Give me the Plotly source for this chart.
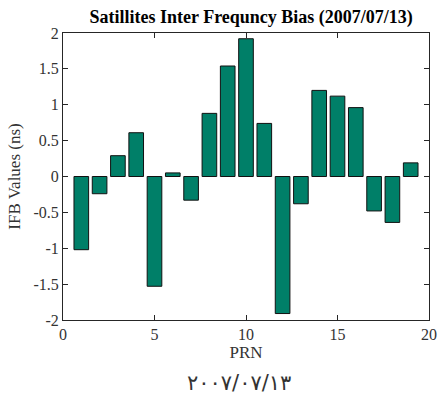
import plotly.graph_objects as go

# Inter-frequency bias per satellite
prn = list(range(1, 20))
ifb_ns = [-1.02, -0.24, 0.29, 0.61, -1.53, 0.05, -0.33, 0.88, 1.54, 1.92,
          0.74, -1.91, -0.38, 1.20, 1.12, 0.96, -0.48, -0.64, 0.19]

x_ticks = [0, 5, 10, 15, 20]
y_ticks = [-2, -1.5, -1, -0.5, 0, 0.5, 1, 1.5, 2]
y_tick_text = ["-2", "-1.5", "-1", "-0.5", "0", "0.5", "1", "1.5", "2"]

title_text = "Satillites Inter Frequncy Bias (2007/07/13)"
date_text = "٢٠٠٧/٠٧/١٣"

serif = "Liberation Serif, Times New Roman, serif"
axis_color = "#262626"

fig = go.Figure(go.Bar(
    x=prn, y=ifb_ns, width=0.8,
    marker=dict(color="#007F68", line=dict(color="#111111", width=1)),
))

axis_common = dict(
    showgrid=False, zeroline=False, showline=True, linecolor=axis_color,
    linewidth=1, mirror="ticks", ticks="inside", ticklen=5,
    tickcolor=axis_color, tickfont=dict(family=serif, size=16, color="#333333"),
)

fig.update_layout(
    width=447, height=394,
    margin=dict(l=63, r=10, t=33, b=74),
    paper_bgcolor="white", plot_bgcolor="white",
    showlegend=False,
    title=dict(text="<b>" + title_text + "</b>", x=0.562, xanchor="center",
               y=1 - 17 / 394, yanchor="middle",
               font=dict(family=serif, size=18, color="black")),
    xaxis=dict(range=[0, 20], tickvals=x_ticks, **axis_common,
               title=dict(text="PRN", standoff=2,
                          font=dict(family=serif, size=17, color="#333333"))),
    yaxis=dict(range=[-2, 2], tickvals=y_ticks, ticktext=y_tick_text, **axis_common,
               title=dict(text="IFB Values (ns)", standoff=8,
                          font=dict(family=serif, size=17, color="#333333"))),
    annotations=[dict(text=date_text, xref="paper", yref="paper",
                      x=0.481, y=-0.219, xanchor="center", yanchor="middle",
                      showarrow=False,
                      font=dict(family="DejaVu Sans, sans-serif",
                                size=21, color="#333333"))],
)

fig.write_html("out.html")
